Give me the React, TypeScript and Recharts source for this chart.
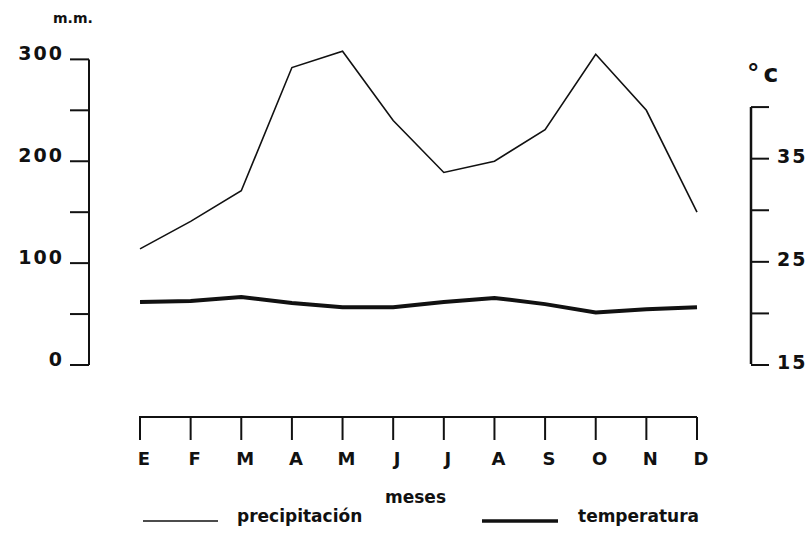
import { LineChart, Line, XAxis, YAxis, Label, Legend } from 'recharts'

const MESES = ['E', 'F', 'M', 'A', 'M', 'J', 'J', 'A', 'S', 'O', 'N', 'D']
const PRECIPITACION = [114, 141, 171, 292, 308, 240, 189, 200, 231, 305, 250, 150]
const TEMPERATURA = [21.1, 21.2, 21.6, 21.0, 20.6, 20.6, 21.1, 21.5, 20.9, 20.1, 20.4, 20.6]
const MM_TICKS = [0, 50, 100, 150, 200, 250, 300]
const MM_LABELS = [0, 100, 200, 300]
const C_TICKS = [15, 20, 25, 30, 35, 40]
const C_LABELS = [15, 25, 35]

const FONT = '"DejaVu Sans", sans-serif'
const INK = '#111'
const PLOT_BOTTOM = 365

const data = MESES.map((mes, i) => ({
  mes,
  precipitacion: PRECIPITACION[i],
  temperatura: TEMPERATURA[i],
}))

const MmTick = ({ y, payload }: any) => {
  const v = payload.value
  return (
    <g>
      <line x1={70} x2={89} y1={y} y2={y} stroke={INK} strokeWidth={2} />
      {v === 300 && <line x1={89} x2={89} y1={y} y2={PLOT_BOTTOM} stroke={INK} strokeWidth={2} />}
      {MM_LABELS.includes(v) && (
        <text x={64} y={y + 1} textAnchor="end" fontSize={19} fontWeight="bold" letterSpacing={2} fill={INK} fontFamily={FONT}>
          {v}
        </text>
      )}
    </g>
  )
}

const CTick = ({ y, payload }: any) => {
  const v = payload.value
  return (
    <g>
      <line x1={751} x2={769} y1={y} y2={y} stroke={INK} strokeWidth={2} />
      {v === 40 && <line x1={751} x2={751} y1={y} y2={y + 257} stroke={INK} strokeWidth={2.5} />}
      {C_LABELS.includes(v) && (
        <text x={777} y={y + 4} textAnchor="start" fontSize={19} fontWeight="bold" letterSpacing={2} fill={INK} fontFamily={FONT}>
          {v}
        </text>
      )}
    </g>
  )
}

const MesTick = ({ x, index, payload }: any) => (
  <g>
    {index === 0 && <line x1={x - 1} x2={697} y1={417} y2={417} stroke={INK} strokeWidth={2} />}
    <line x1={x} x2={x} y1={417} y2={440} stroke={INK} strokeWidth={2} />
    <text x={x + 4} y={465} textAnchor="middle" fontSize={18} fontWeight="bold" fill={INK} fontFamily={FONT}>
      {payload.value}
    </text>
  </g>
)

const Leyenda = () => (
  <svg width={812} height={55}>
    <line x1={143} x2={218} y1={41} y2={41} stroke={INK} strokeWidth={1.5} />
    <text x={237} y={42} fontSize={17} fontWeight="bold" fill={INK} fontFamily={FONT}>
      precipitación
    </text>
    <line x1={482} x2={558} y1={41} y2={41} stroke={INK} strokeWidth={3.5} />
    <text x={578} y={42} fontSize={17} fontWeight="bold" fill={INK} fontFamily={FONT}>
      temperatura
    </text>
  </svg>
)

export default function App() {
  return (
    <div style={{ position: 'absolute', left: 0, top: 0, width: 812, height: 535, background: '#fff' }}>
      <LineChart width={812} height={535} data={data} margin={{ top: 39, right: 35, bottom: 140, left: 4 }}>
        <XAxis dataKey="mes" height={30} axisLine={false} tickLine={false} interval={0} tick={<MesTick />}>
          <Label
            content={() => (
              <text x={385} y={503} fontSize={17} fontWeight="bold" fill={INK} fontFamily={FONT}>
                meses
              </text>
            )}
          />
        </XAxis>
        <YAxis
          yAxisId="mm"
          width={136}
          domain={[0, 320]}
          ticks={MM_TICKS}
          interval={0}
          axisLine={false}
          tickLine={false}
          tick={<MmTick />}
        >
          <Label
            content={() => (
              <text x={53} y={23} fontSize={14} fontWeight="bold" fill={INK} fontFamily={FONT}>
                m.m.
              </text>
            )}
          />
        </YAxis>
        <YAxis
          yAxisId="c"
          orientation="right"
          width={80}
          domain={[15, 46.6]}
          ticks={C_TICKS}
          interval={0}
          axisLine={false}
          tickLine={false}
          tick={<CTick />}
        >
          <Label
            content={() => (
              <text x={747} y={82} fontSize={25} fontWeight="bold" fill={INK} fontFamily={FONT}>
                °<tspan dx={4}>c</tspan>
              </text>
            )}
          />
        </YAxis>
        <Legend
          layout="horizontal"
          verticalAlign="middle"
          align="center"
          wrapperStyle={{ top: 480, left: 0, width: 812, height: 55 }}
          content={<Leyenda />}
        />
        <Line
          yAxisId="mm"
          type="linear"
          dataKey="precipitacion"
          stroke={INK}
          strokeWidth={1.6}
          dot={false}
          isAnimationActive={false}
        />
        <Line
          yAxisId="c"
          type="linear"
          dataKey="temperatura"
          stroke={INK}
          strokeWidth={4}
          dot={false}
          isAnimationActive={false}
        />
      </LineChart>
    </div>
  )
}
